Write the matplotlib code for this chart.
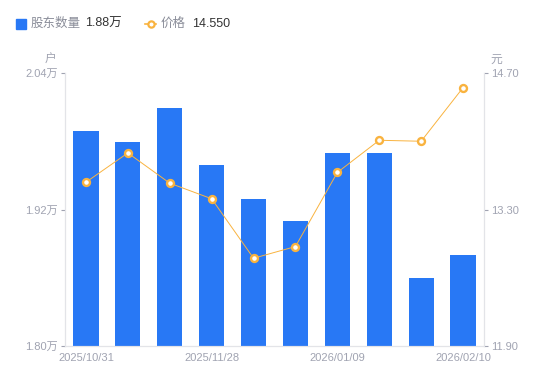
import matplotlib.pyplot as plt
import numpy as np
from matplotlib.lines import Line2D
from matplotlib.patches import Rectangle

plt.rcParams['font.family'] = ['Liberation Sans', 'Noto Sans CJK SC', 'DejaVu Sans']

# 数据
dates = ['2025/10/31', '', '', '2025/11/28', '', '', '2026/01/09', '', '', '2026/02/10']
holders = [1.989, 1.979, 2.009, 1.959, 1.929, 1.910, 1.970, 1.970, 1.860, 1.880]  # 万户
price = [13.58, 13.88, 13.57, 13.41, 12.80, 12.92, 13.68, 14.01, 14.00, 14.55]

bar_color = '#2878f5'
line_color = '#f9b33f'
tick_color = '#a0a3b1'
spine_color = '#e3e4e8'

fig = plt.figure(figsize=(5.5, 3.81), dpi=100)
ax = fig.add_axes([65 / 550, 1 - 346 / 381, 419 / 550, 273 / 381])
ax2 = ax.twinx()

x = np.arange(len(holders))
ax.bar(x, holders, width=0.6, color=bar_color, zorder=2)
ax.set_xlim(-0.5, len(holders) - 0.5)
ax.set_ylim(1.80, 2.04)
ax.set_yticks([1.80, 1.92, 2.04])
ax.set_yticklabels(['1.80万', '1.92万', '2.04万'])
ax.set_xticks([0, 3, 6, 9])
ax.set_xticklabels([dates[i] for i in [0, 3, 6, 9]])

ax2.plot(x, price, color=line_color, linewidth=0.7, marker='o', markersize=5,
         markerfacecolor='white', markeredgecolor=line_color, markeredgewidth=1.7, zorder=3)
ax2.set_ylim(11.90, 14.70)
ax2.set_yticks([11.90, 13.30, 14.70])
ax2.set_yticklabels(['11.90', '13.30', '14.70'])

for a in (ax, ax2):
    for s in a.spines.values():
        s.set_color(spine_color)
    a.spines['top'].set_visible(False)
    a.tick_params(colors=tick_color, labelsize=8, length=3, width=0.8, pad=2)
ax.tick_params(axis='x', length=0, pad=5)

ax.text(-0.02, 1.025, '户', transform=ax.transAxes, ha='right', va='bottom',
        fontsize=8.5, color=tick_color)
ax2.text(1.015, 1.025, '元', transform=ax2.transAxes, ha='left', va='bottom',
         fontsize=8.5, color=tick_color)

# 顶部图例
fig.patches.append(Rectangle((16 / 550, 1 - 29 / 381), 10 / 550, 10 / 381,
                             transform=fig.transFigure, color=bar_color))
fig.text(31 / 550, 1 - 24 / 381, '股东数量', fontsize=9, color='#8a8d99', va='center')
fig.text(85 / 550, 1 - 24 / 381, '1.88万', fontsize=9, color='#333333', va='center')
fig.lines.append(Line2D([145 / 550, 156 / 550], [1 - 24 / 381] * 2, transform=fig.transFigure,
                        color=line_color, linewidth=1.2))
fig.lines.append(Line2D([150.5 / 550], [1 - 24 / 381], transform=fig.transFigure,
                        color=line_color, marker='o', markersize=4.5,
                        markerfacecolor='white', markeredgewidth=1.6))
fig.text(161 / 550, 1 - 24 / 381, '价格', fontsize=9, color='#8a8d99', va='center')
fig.text(192 / 550, 1 - 24 / 381, '14.550', fontsize=9, color='#333333', va='center')

fig.savefig('out.png', dpi=100)
